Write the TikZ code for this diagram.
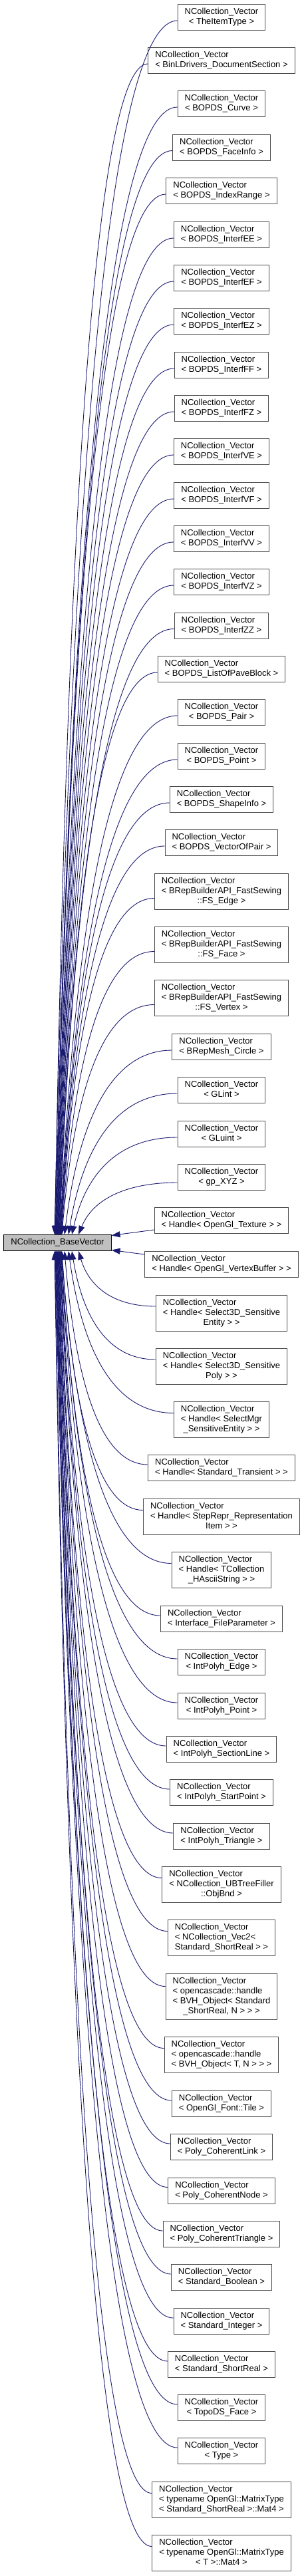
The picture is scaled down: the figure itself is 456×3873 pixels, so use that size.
\documentclass[tikz,border=0pt]{standalone}
\usepackage{fontspec}
\setmainfont{Liberation Sans}
\usetikzlibrary{arrows.meta,calc}
\definecolor{edgeblue}{RGB}{25,25,112}
\definecolor{boxgrey}{RGB}{191,191,191}
\newcommand{\ncv}[2][]{\begin{tabular}{@{}l@{}}NCollection\_Vector\\#1\multicolumn{1}{@{}c@{}}{#2}\end{tabular}}

\begin{document}
\begin{tikzpicture}[x=1pt, y=-1pt, >={Triangle[length=13pt,width=9pt]},
  cls/.style={draw=black!70, fill=white, line width=1pt, inner xsep=10.5pt, inner ysep=4.5pt, font=\fontsize{13}{15}\selectfont},
  inh/.style={edgeblue, line width=0.9pt, <-,
    to path={let \p1=(\tikztostart), \p2=(\tikztotarget) in
      .. controls (\x1+0.15*\x2-0.15*\x1,\y1+0.7*\y2-0.7*\y1) and (0.5*\x1+0.5*\x2,\y2) .. (\p2)}}]
\useasboundingbox (0,0) rectangle (456,3873);
% Base class
\node[cls, fill=boxgrey, draw=black, text height=10.5pt, text depth=4.5pt] (base) at (86.5,1868.5) {NCollection\_BaseVector};

% Derived classes
\node[cls] (theitem) at (333,26) {\ncv{< TheItemType >}};
\node[cls] (binl) at (333,91) {\ncv{< BinLDrivers\_DocumentSection >}};
\node[cls] (curve) at (333,156) {\ncv{< BOPDS\_Curve >}};
\node[cls] (faceinfo) at (333,221.5) {\ncv{< BOPDS\_FaceInfo >}};
\node[cls] (indexrange) at (333,287) {\ncv{< BOPDS\_IndexRange >}};
\node[cls] (interfee) at (333,353) {\ncv{< BOPDS\_InterfEE >}};
\node[cls] (interfef) at (333,418) {\ncv{< BOPDS\_InterfEF >}};
\node[cls] (interfez) at (333,483) {\ncv{< BOPDS\_InterfEZ >}};
\node[cls] (interfff) at (333,549) {\ncv{< BOPDS\_InterfFF >}};
\node[cls] (interffz) at (333,614) {\ncv{< BOPDS\_InterfFZ >}};
\node[cls] (interfve) at (333,679) {\ncv{< BOPDS\_InterfVE >}};
\node[cls] (interfvf) at (333,745) {\ncv{< BOPDS\_InterfVF >}};
\node[cls] (interfvv) at (333,810) {\ncv{< BOPDS\_InterfVV >}};
\node[cls] (interfvz) at (333,875) {\ncv{< BOPDS\_InterfVZ >}};
\node[cls] (interfzz) at (333,940.5) {\ncv{< BOPDS\_InterfZZ >}};
\node[cls] (paveblock) at (333,1006) {\ncv{< BOPDS\_ListOfPaveBlock >}};
\node[cls] (pair) at (333,1071) {\ncv{< BOPDS\_Pair >}};
\node[cls] (point) at (333,1137) {\ncv{< BOPDS\_Point >}};
\node[cls] (shapeinfo) at (333,1202) {\ncv{< BOPDS\_ShapeInfo >}};
\node[cls] (vecofpair) at (333,1267) {\ncv{< BOPDS\_VectorOfPair >}};
\node[cls] (fsedge) at (333,1340.5) {\ncv[< BRepBuilderAPI\_FastSewing\\]{::FS\_Edge >}};
\node[cls] (fsface) at (333,1420.5) {\ncv[< BRepBuilderAPI\_FastSewing\\]{::FS\_Face >}};
\node[cls] (fsvertex) at (333,1500.5) {\ncv[< BRepBuilderAPI\_FastSewing\\]{::FS\_Vertex >}};
\node[cls] (circle) at (333,1574) {\ncv{< BRepMesh\_Circle >}};
\node[cls] (glint) at (333,1639) {\ncv{< GLint >}};
\node[cls] (gluint) at (333,1705) {\ncv{< GLuint >}};
\node[cls] (gpxyz) at (333,1770) {\ncv{< gp\_XYZ >}};
\node[cls] (gltexture) at (333,1835) {\ncv{< Handle< OpenGl\_Texture > >}};
\node[cls] (glvbuffer) at (333,1901) {\ncv{< Handle< OpenGl\_VertexBuffer > >}};
\node[cls] (s3dentity) at (333,1974) {\ncv[< Handle< Select3D\_Sensitive\\]{Entity > >}};
\node[cls] (s3dpoly) at (333,2054) {\ncv[< Handle< Select3D\_Sensitive\\]{Poly > >}};
\node[cls] (smgrentity) at (333,2134.5) {\ncv[< Handle< SelectMgr\\]{\_SensitiveEntity > >}};
\node[cls] (transient) at (333,2207) {\ncv{< Handle< Standard\_Transient > >}};
\node[cls] (repritem) at (333,2280.5) {\ncv[< Handle< StepRepr\_Representation\\]{Item > >}};
\node[cls] (hascii) at (333,2360.5) {\ncv[< Handle< TCollection\\]{\_HAsciiString > >}};
\node[cls] (fileparam) at (333,2434) {\ncv{< Interface\_FileParameter >}};
\node[cls] (ipedge) at (333,2499) {\ncv{< IntPolyh\_Edge >}};
\node[cls] (ippoint) at (333,2565) {\ncv{< IntPolyh\_Point >}};
\node[cls] (ipsection) at (333,2630) {\ncv{< IntPolyh\_SectionLine >}};
\node[cls] (ipstart) at (333,2695) {\ncv{< IntPolyh\_StartPoint >}};
\node[cls] (iptriangle) at (333,2761) {\ncv{< IntPolyh\_Triangle >}};
\node[cls] (objbnd) at (333,2833.5) {\ncv[< NCollection\_UBTreeFiller\\]{::ObjBnd >}};
\node[cls] (vec2) at (333,2913.5) {\ncv[< NCollection\_Vec2<\\]{Standard\_ShortReal > >}};
\node[cls] (bvhshort) at (333,3001.5) {\ncv[< opencascade::handle\\< BVH\_Object< Standard\\]{\_ShortReal, N > > >}};
\node[cls] (bvht) at (333,3089.5) {\ncv[< opencascade::handle\\]{< BVH\_Object< T, N > > >}};
\node[cls] (fonttile) at (333,3163) {\ncv{< OpenGl\_Font::Tile >}};
\node[cls] (cohlink) at (333,3228) {\ncv{< Poly\_CoherentLink >}};
\node[cls] (cohnode) at (333,3293.5) {\ncv{< Poly\_CoherentNode >}};
\node[cls] (cohtri) at (333,3359) {\ncv{< Poly\_CoherentTriangle >}};
\node[cls] (stdbool) at (333,3424) {\ncv{< Standard\_Boolean >}};
\node[cls] (stdint) at (333,3490) {\ncv{< Standard\_Integer >}};
\node[cls] (stdshort) at (333,3555) {\ncv{< Standard\_ShortReal >}};
\node[cls] (topoface) at (333,3620) {\ncv{< TopoDS\_Face >}};
\node[cls] (tptype) at (333,3685) {\ncv{< Type >}};
\node[cls] (mat4short) at (333,3758.5) {\ncv[< typename OpenGl::MatrixType\\]{< Standard\_ShortReal >::Mat4 >}};
\node[cls] (mat4t) at (333,3838.5) {\ncv[< typename OpenGl::MatrixType\\]{< T >::Mat4 >}};

% Inheritance arrows, upper half
\draw[inh] ([xshift=-4.5pt]base.north) to ([yshift=-5pt]theitem.west);
\draw[inh] ([xshift=-4pt]base.north) to ([yshift=-5pt]binl.west);
\draw[inh] ([xshift=-3.5pt]base.north) to ([yshift=-5pt]curve.west);
\draw[inh] ([xshift=-3pt]base.north) to ([yshift=-5pt]faceinfo.west);
\draw[inh] ([xshift=-2.5pt]base.north) to ([yshift=-5pt]indexrange.west);
\draw[inh] ([xshift=-2pt]base.north) to ([yshift=-5pt]interfee.west);
\draw[inh] ([xshift=-1.5pt]base.north) to ([yshift=-5pt]interfef.west);
\draw[inh] ([xshift=-1pt]base.north) to ([yshift=-5pt]interfez.west);
\draw[inh] ([xshift=-0.5pt]base.north) to ([yshift=-5pt]interfff.west);
\draw[inh] (base.north) to ([yshift=-5pt]interffz.west);
\draw[inh] ([xshift=0.5pt]base.north) to ([yshift=-5pt]interfve.west);
\draw[inh] ([xshift=1pt]base.north) to ([yshift=-5pt]interfvf.west);
\draw[inh] ([xshift=1.5pt]base.north) to ([yshift=-5pt]interfvv.west);
\draw[inh] ([xshift=2pt]base.north) to ([yshift=-5pt]interfvz.west);
\draw[inh] ([xshift=2.5pt]base.north) to ([yshift=-5pt]interfzz.west);
\draw[inh] ([xshift=3pt]base.north) to ([yshift=-5pt]paveblock.west);
\draw[inh] ([xshift=3.5pt]base.north) to ([yshift=-5pt]pair.west);
\draw[inh] ([xshift=4pt]base.north) to ([yshift=-5pt]point.west);
\draw[inh] ([xshift=4.5pt]base.north) to ([yshift=-5pt]shapeinfo.west);
\draw[inh] ([xshift=5pt]base.north) to ([yshift=-5pt]vecofpair.west);
\draw[inh] ([xshift=5.5pt]base.north) to ([yshift=-10pt]fsedge.west);
\draw[inh] ([xshift=6pt]base.north) to ([yshift=-10pt]fsface.west);
\draw[inh] ([xshift=6.5pt]base.north) to ([yshift=-10pt]fsvertex.west);
\draw[inh] ([xshift=10.5pt]base.north) to ([yshift=-5pt]circle.west);
\draw[inh] ([xshift=16.5pt]base.north) to ([yshift=-5pt]glint.west);
\draw[inh] ([xshift=21.5pt]base.north) to ([yshift=-5pt]gluint.west);
\draw[inh] ([xshift=31.5pt]base.north) to ([yshift=-8pt]gpxyz.west);
% side arrows
\draw[inh] ([yshift=11pt]base.east) -- ([yshift=-14pt]gltexture.west);
\draw[inh] ([yshift=-11pt]base.east) -- ([yshift=15pt]glvbuffer.west);
% lower half
\draw[inh] ([xshift=31.5pt]base.south) to ([yshift=10pt]s3dentity.west);
\draw[inh] ([xshift=21.5pt]base.south) to ([yshift=10pt]s3dpoly.west);
\draw[inh] ([xshift=16.5pt]base.south) to ([yshift=10pt]smgrentity.west);
\draw[inh] ([xshift=10.5pt]base.south) to ([yshift=5pt]transient.west);
\draw[inh] ([xshift=6.5pt]base.south) to ([yshift=10pt]repritem.west);
\draw[inh] ([xshift=6pt]base.south) to ([yshift=10pt]hascii.west);
\draw[inh] ([xshift=5.5pt]base.south) to ([yshift=5pt]fileparam.west);
\draw[inh] ([xshift=5pt]base.south) to ([yshift=5pt]ipedge.west);
\draw[inh] ([xshift=4.5pt]base.south) to ([yshift=5pt]ippoint.west);
\draw[inh] ([xshift=4pt]base.south) to ([yshift=5pt]ipsection.west);
\draw[inh] ([xshift=3.5pt]base.south) to ([yshift=5pt]ipstart.west);
\draw[inh] ([xshift=3pt]base.south) to ([yshift=5pt]iptriangle.west);
\draw[inh] ([xshift=2.5pt]base.south) to ([yshift=10pt]objbnd.west);
\draw[inh] ([xshift=2pt]base.south) to ([yshift=10pt]vec2.west);
\draw[inh] ([xshift=1.5pt]base.south) to ([yshift=15pt]bvhshort.west);
\draw[inh] ([xshift=1pt]base.south) to ([yshift=10pt]bvht.west);
\draw[inh] ([xshift=0.5pt]base.south) to ([yshift=5pt]fonttile.west);
\draw[inh] (base.south) to ([yshift=5pt]cohlink.west);
\draw[inh] ([xshift=-0.5pt]base.south) to ([yshift=5pt]cohnode.west);
\draw[inh] ([xshift=-1pt]base.south) to ([yshift=5pt]cohtri.west);
\draw[inh] ([xshift=-1.5pt]base.south) to ([yshift=5pt]stdbool.west);
\draw[inh] ([xshift=-2pt]base.south) to ([yshift=5pt]stdint.west);
\draw[inh] ([xshift=-2.5pt]base.south) to ([yshift=5pt]stdshort.west);
\draw[inh] ([xshift=-3pt]base.south) to ([yshift=5pt]topoface.west);
\draw[inh] ([xshift=-3.5pt]base.south) to ([yshift=5pt]tptype.west);
\draw[inh] ([xshift=-4pt]base.south) to ([yshift=10pt]mat4short.west);
\draw[inh] ([xshift=-4.5pt]base.south) to ([yshift=10pt]mat4t.west);
\end{tikzpicture}
\end{document}
